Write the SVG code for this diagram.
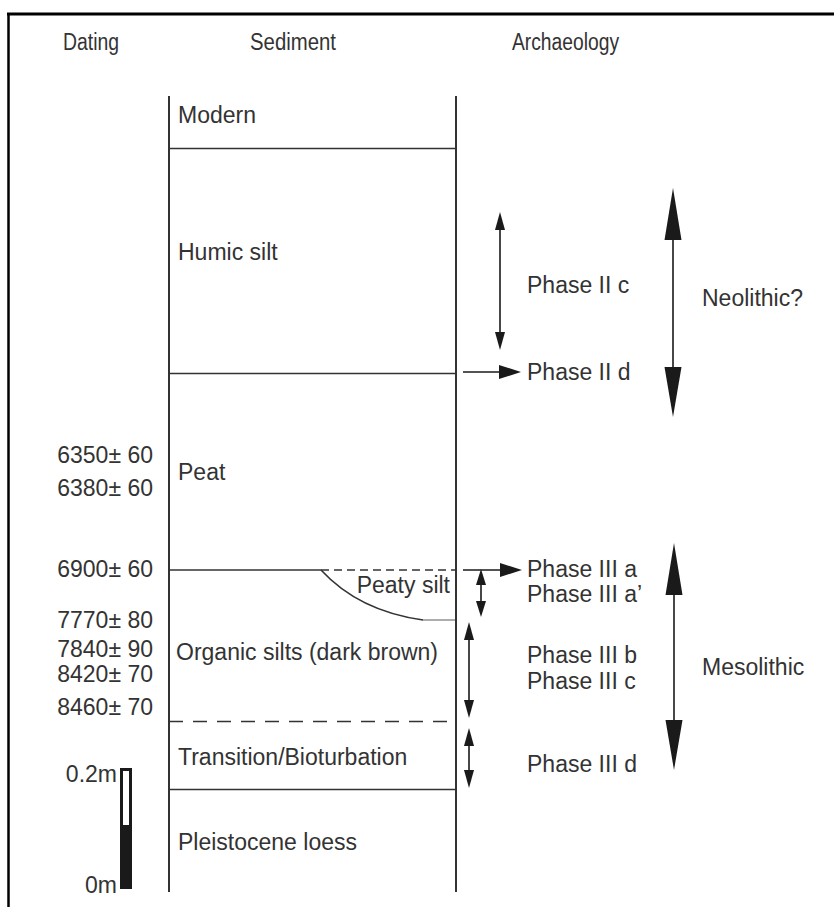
<svg xmlns="http://www.w3.org/2000/svg" width="834" height="907" viewBox="0 0 834 907">
<style>
text{font-family:"Liberation Sans",Arial,sans-serif;font-size:23px;fill:#333}
.hd{font-size:23px}
.ln{stroke:#333;stroke-width:2;fill:none}
.thin{stroke:#333;stroke-width:1.6;fill:none}
.ah{fill:#1a1a1a}
.ar{stroke:#1a1a1a;stroke-width:1.6;fill:none}
</style>
<rect width="834" height="907" fill="#fff"/>
<g id="frame">
<line x1="7" y1="14" x2="834" y2="14" stroke="#000" stroke-width="3"/>
<line x1="8.5" y1="13" x2="8.5" y2="907" stroke="#000" stroke-width="2.5"/>
</g>
<g id="headers">
<text class="hd" x="63" y="50" textLength="56" lengthAdjust="spacingAndGlyphs">Dating</text>
<text class="hd" x="250" y="50" textLength="86" lengthAdjust="spacingAndGlyphs">Sediment</text>
<text class="hd" x="512" y="50" textLength="107" lengthAdjust="spacingAndGlyphs">Archaeology</text>
</g>
<g id="column">
<line class="ln" x1="169" y1="96" x2="169" y2="892"/>
<line class="ln" x1="456" y1="96" x2="456" y2="892"/>
</g>
<g id="modern"><text x="178" y="123">Modern</text></g>
<g id="humic-silt">
<line class="thin" x1="169" y1="148.5" x2="456" y2="148.5"/>
<text x="178" y="260">Humic silt</text>
</g>
<g id="peat">
<line class="thin" x1="169" y1="373.5" x2="456" y2="373.5"/>
<text x="178" y="480">Peat</text>
</g>
<g id="peaty-silt">
<line class="thin" x1="169" y1="570" x2="321" y2="570"/>
<line class="thin" x1="321" y1="570" x2="456" y2="570" stroke-dasharray="8,5"/>
<path class="thin" d="M321,570 C345,596 380,614 423,620"/>
<line x1="423" y1="620" x2="455" y2="620" stroke="#999" stroke-width="1.6"/>
<text x="450" y="593" text-anchor="end">Peaty silt</text>
</g>
<g id="organic-silts"><text x="176" y="660">Organic silts (dark brown)</text></g>
<g id="transition">
<line class="thin" x1="169" y1="721.5" x2="456" y2="721.5" stroke-dasharray="14,10"/>
<text x="178" y="765">Transition/Bioturbation</text>
</g>
<g id="pleistocene-loess">
<line class="thin" x1="169" y1="789.5" x2="456" y2="789.5"/>
<text x="178" y="850">Pleistocene loess</text>
</g>
<g id="dating" text-anchor="end">
<text x="153" y="463">6350± 60</text>
<text x="153" y="496">6380± 60</text>
<text x="153" y="577">6900± 60</text>
<text x="153" y="628">7770± 80</text>
<text x="153" y="657">7840± 90</text>
<text x="153" y="682">8420± 70</text>
<text x="153" y="715">8460± 70</text>
</g>
<g id="scale">
<rect x="120" y="768" width="12" height="121" fill="#1a1a1a"/>
<rect x="123" y="771" width="6" height="54" fill="#fff"/>
<text x="117" y="782" text-anchor="end">0.2m</text>
<text x="117" y="893" text-anchor="end">0m</text>
</g>
<g id="phase-labels">
<text x="527" y="293">Phase II c</text>
<text x="527" y="380">Phase II d</text>
<text x="527" y="577">Phase III a</text>
<text x="527" y="602">Phase III a’</text>
<text x="527" y="663">Phase III b</text>
<text x="527" y="689">Phase III c</text>
<text x="527" y="772">Phase III d</text>
<text x="702" y="306">Neolithic?</text>
<text x="702" y="675">Mesolithic</text>
</g>
<g id="connectors">
<line class="ar" x1="463" y1="372" x2="505" y2="372"/>
<polygon class="ah" points="521,372 499,365 499,379"/>
<line class="ar" x1="463" y1="570" x2="505" y2="570"/>
<polygon class="ah" points="522,570 500,563 500,577"/>
<line class="ar" x1="500" y1="225" x2="500" y2="337"/>
<polygon class="ah" points="500,212 495,230 505,230"/>
<polygon class="ah" points="500,350 495,332 505,332"/>
<line class="ar" x1="481" y1="580" x2="481" y2="606"/>
<polygon class="ah" points="481,569 476,585 486,585"/>
<polygon class="ah" points="481,617 476,601 486,601"/>
<line class="ar" x1="469" y1="634" x2="469" y2="706"/>
<polygon class="ah" points="469,622 464,640 474,640"/>
<polygon class="ah" points="469,718 464,700 474,700"/>
<line class="ar" x1="469" y1="740" x2="469" y2="776"/>
<polygon class="ah" points="469,728 464,746 474,746"/>
<polygon class="ah" points="469,788 464,770 474,770"/>
<line class="ar" x1="673" y1="230" x2="673" y2="377"/>
<polygon class="ah" points="673,188 664.5,240 681.5,240"/>
<polygon class="ah" points="673,417 664.5,367 681.5,367"/>
<line class="ar" x1="674" y1="585" x2="674" y2="730"/>
<polygon class="ah" points="674,543 665.5,595 682.5,595"/>
<polygon class="ah" points="674,770 665.5,720 682.5,720"/>
</g>
</svg>
